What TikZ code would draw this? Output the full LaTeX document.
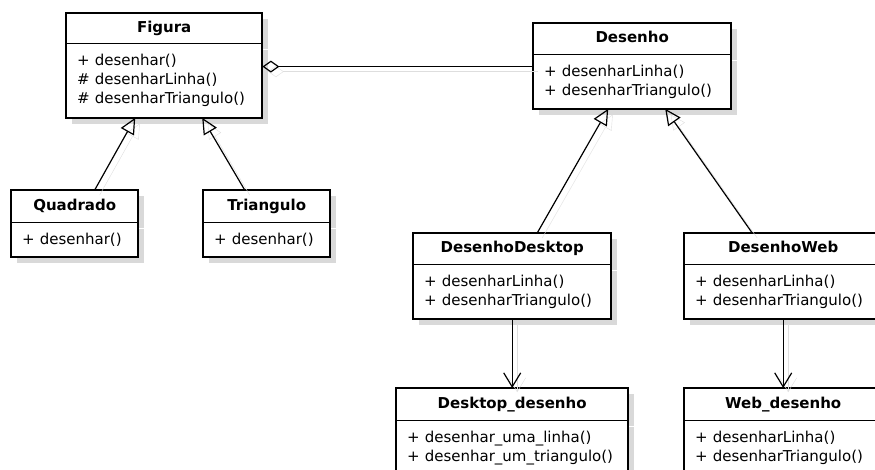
\documentclass[tikz,border=0pt]{standalone}
\usepackage{fontspec}
\setmainfont{DejaVu Sans}
\usetikzlibrary{arrows.meta,calc,shadows}

\begin{document}
\begin{tikzpicture}[x=1pt,y=-1pt,
    sombra/.style={drop shadow={shadow xshift=6pt,shadow yshift=-6pt,fill=black!15,opacity=1}},
    titulo/.style={sombra,fill=white,anchor=north west,inner sep=0pt,text height=11pt,text depth=3pt,
        font=\fontsize{15}{19}\selectfont\bfseries},
    corpo/.style={sombra,fill=white,anchor=north,inner xsep=11pt,inner ysep=0pt,align=left,
        font=\fontsize{15}{19}\selectfont},
    borda/.style={line width=2pt},
    rastro/.style={preaction={draw=black!13,transform canvas={shift={(5pt,-5pt)}}}},
    heranca/.style={rastro,-{Triangle[open,length=16pt,width=15pt]},line width=1.2pt},
    usa/.style={rastro,-{Straight Barb[length=14pt,width=17pt]},line width=1.2pt},
    agrega/.style={rastro,{Diamond[open,length=17pt,width=12pt]}-,line width=1.2pt}]
    \useasboundingbox (0,0) rectangle (875,470);

    \node[titulo,minimum width=196pt,minimum height=30pt] (figura) at (66,13) {Figura};
    \node[corpo,text width=174pt,minimum height=74pt] (figura-b) at (figura.south) {+ desenhar()\\\# desenharLinha()\\\# desenharTriangulo()};
    \draw[borda] (figura.north west) rectangle (figura-b.south east);
    \draw (figura.south west) -- (figura.south east);

    \node[titulo,minimum width=127pt,minimum height=32pt] (quadrado) at (11,190) {Quadrado};
    \node[corpo,text width=105pt,minimum height=34pt] (quadrado-b) at (quadrado.south) {+ desenhar()};
    \draw[borda] (quadrado.north west) rectangle (quadrado-b.south east);
    \draw (quadrado.south west) -- (quadrado.south east);

    \node[titulo,minimum width=127pt,minimum height=32pt] (triangulo) at (203,190) {Triangulo};
    \node[corpo,text width=105pt,minimum height=34pt] (triangulo-b) at (triangulo.south) {+ desenhar()};
    \draw[borda] (triangulo.north west) rectangle (triangulo-b.south east);
    \draw (triangulo.south west) -- (triangulo.south east);

    \node[titulo,minimum width=198pt,minimum height=31pt] (desenho) at (533,23) {Desenho};
    \node[corpo,text width=176pt,minimum height=54pt] (desenho-b) at (desenho.south) {+ desenharLinha()\\+ desenharTriangulo()};
    \draw[borda] (desenho.north west) rectangle (desenho-b.south east);
    \draw (desenho.south west) -- (desenho.south east);

    \node[titulo,minimum width=198pt,minimum height=31pt] (desktop) at (413,233) {DesenhoDesktop};
    \node[corpo,text width=176pt,minimum height=54pt] (desktop-b) at (desktop.south) {+ desenharLinha()\\+ desenharTriangulo()};
    \draw[borda] (desktop.north west) rectangle (desktop-b.south east);
    \draw (desktop.south west) -- (desktop.south east);

    \node[titulo,minimum width=198pt,minimum height=31pt] (web) at (684,233) {DesenhoWeb};
    \node[corpo,text width=176pt,minimum height=54pt] (web-b) at (web.south) {+ desenharLinha()\\+ desenharTriangulo()};
    \draw[borda] (web.north west) rectangle (web-b.south east);
    \draw (web.south west) -- (web.south east);

    \node[titulo,minimum width=232pt,minimum height=32pt] (desktopd) at (396,388) {Desktop\_desenho};
    \node[corpo,text width=210pt,minimum height=54pt] (desktopd-b) at (desktopd.south) {+ desenhar\_uma\_linha()\\+ desenhar\_um\_triangulo()};
    \draw[borda] (desktopd.north west) rectangle (desktopd-b.south east);
    \draw (desktopd.south west) -- (desktopd.south east);

    \node[titulo,minimum width=198pt,minimum height=32pt] (webd) at (684,388) {Web\_desenho};
    \node[corpo,text width=176pt,minimum height=54pt] (webd-b) at (webd.south) {+ desenharLinha()\\+ desenharTriangulo()};
    \draw[borda] (webd.north west) rectangle (webd-b.south east);
    \draw (webd.south west) -- (webd.south east);

    % ligacoes
    \draw[agrega] ([yshift=14pt]figura-b.east) -- ([yshift=14pt]figura-b.east -| desenho-b.west);
    \draw[heranca] ([xshift=20pt]quadrado.north) -- ([xshift=-29pt]figura-b.south);
    \draw[heranca] ([xshift=-22pt]triangulo.north) -- ([xshift=38pt]figura-b.south);
    \draw[heranca] ([xshift=25pt]desktop.north) -- ([xshift=-24pt]desenho-b.south);
    \draw[heranca] ([xshift=-31pt]web.north) -- ([xshift=33pt]desenho-b.south);
    \draw[usa] (desktop-b.south) -- (desktopd.north);
    \draw[usa] (web-b.south) -- (webd.north);
\end{tikzpicture}
\end{document}
